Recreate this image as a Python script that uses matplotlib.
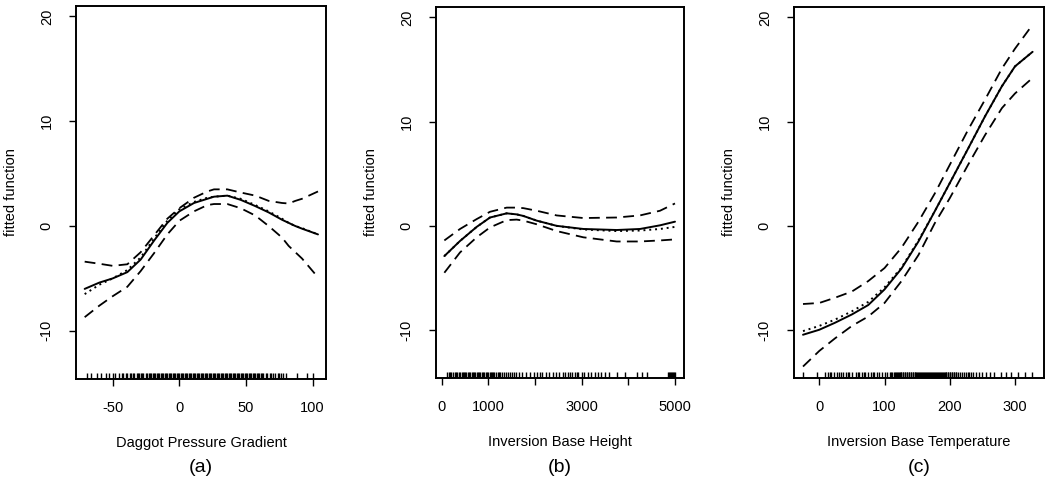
"""
Fitted additive-model functions for three ozone predictors, with
pointwise bands (dashed), an alternative fit (dotted) and a rug of the data.
"""

import matplotlib
matplotlib.use("Agg")
import matplotlib.pyplot as plt

plt.rcParams['font.family'] = ['Liberation Sans', 'DejaVu Sans']

# Panel (a): Daggot pressure gradient
dpg_x = [-71, -60, -50, -39, -29, -19, -9, 0, 11, 21, 26, 36, 46, 57, 67, 77, 82, 87, 92, 104]
dpg_fit = [-6.0, -5.4, -5.0, -4.4, -3.2, -1.4, 0.3, 1.4, 2.2, 2.6, 2.8, 2.9, 2.5, 1.9, 1.3, 0.6, 0.3, 0.0, -0.25, -0.8]
dpg_alt = [-6.5, -5.6, -5.0, -4.2, -3.0, -1.2, 0.5, 1.6, 2.3, 2.7, 2.8, 2.9, 2.6, 2.0, 1.4, 0.7, 0.3, 0.0, -0.2, -0.8]
dpg_up = [-3.4, -3.6, -3.8, -3.65, -2.5, -0.9, 0.7, 1.7, 2.7, 3.3, 3.5, 3.5, 3.2, 2.9, 2.4, 2.2, 2.15, 2.4, 2.6, 3.3]
dpg_lo = [-8.7, -7.6, -6.7, -5.8, -4.3, -2.6, -0.8, 0.5, 1.4, 2.0, 2.1, 2.1, 1.7, 1.0, 0.0, -1.1, -1.9, -2.5, -3.1, -4.9]
dpg_rug = [-69, -66, -62, -59, -55, -53, -50, -48, -45, -43, -42, -40, -39, -37, -36, -35, -34, -32,
           -31, -30, -29, -28, -27, -25, -24, -23, -22, -21, -20, -19, -18, -17, -16, -15, -14, -13,
           -12, -11, -10, -9, -8, -7, -6, -5, -4, -3, -2, -1, 0, 1, 2, 3, 4, 5, 6, 7, 8, 9, 10, 11,
           12, 13, 14, 15, 16, 17, 18, 19, 20, 21, 22, 23, 24, 25, 26, 27, 28, 29, 30, 31, 32, 33, 34,
           35, 36, 37, 38, 39, 40, 41, 42, 43, 44, 45, 46, 47, 48, 49, 50, 51, 52, 53, 54, 55, 56, 57,
           58, 59, 60, 61, 62, 63, 65, 66, 68, 69, 70, 72, 74, 75, 76, 78, 80, 88, 96, 100]

# Panel (b): inversion base height
ibh_x = [57, 393, 750, 1036, 1393, 1607, 1750, 2036, 2464, 3036, 3750, 4250, 4679, 5000]
ibh_fit = [-2.9, -1.45, -0.1, 0.8, 1.2, 1.1, 0.95, 0.5, 0.0, -0.3, -0.4, -0.3, 0.05, 0.4]
ibh_alt = [-2.9, -1.45, -0.1, 0.8, 1.2, 1.1, 0.95, 0.5, 0.0, -0.35, -0.5, -0.45, -0.3, -0.1]
ibh_up = [-1.4, -0.3, 0.65, 1.35, 1.75, 1.75, 1.7, 1.45, 1.0, 0.75, 0.8, 1.0, 1.45, 2.15]
ibh_lo = [-4.5, -2.55, -1.1, -0.15, 0.55, 0.6, 0.5, 0.15, -0.5, -1.1, -1.5, -1.5, -1.4, -1.3]
ibh_rug = [111, 150, 180, 210, 240, 280, 310, 330, 370, 400, 430, 450, 470, 500, 530, 560, 590, 610,
           640, 670, 700, 720, 750, 780, 800, 830, 860, 890, 910, 940, 970, 1000, 1030, 1060, 1080,
           1100, 1130, 1160, 1200, 1230, 1260, 1300, 1340, 1380, 1420, 1460, 1500, 1550, 1600, 1650,
           1720, 1800, 1900, 1970, 2040, 2100, 2150, 2230, 2300, 2380, 2450, 2520, 2600, 2650, 2700,
           2740, 2800, 2860, 2900, 2930, 3000, 3060, 3130, 3200, 3280, 3350, 3420, 3500, 3580, 3750,
           3930, 4180, 4290, 4400, 4860, 4880, 4900, 4920, 4940, 4960, 4980, 5000]

# Panel (c): inversion base temperature
ibt_x = [-25, 0, 24, 50, 75, 100, 126, 152, 177, 200, 228, 254, 280, 300, 327]
ibt_fit = [-10.45, -9.97, -9.3, -8.5, -7.6, -6.1, -4.1, -1.5, 1.4, 4.1, 7.4, 10.5, 13.4, 15.3, 16.7]
ibt_alt = [-10.1, -9.6, -9.0, -8.2, -7.3, -5.9, -4.0, -1.4, 1.4, 4.1, 7.4, 10.5, 13.4, 15.3, 16.7]
ibt_up = [-7.5, -7.4, -6.9, -6.3, -5.3, -4.05, -2.1, 0.4, 3.1, 5.85, 9.2, 12.1, 15.1, 17.0, 19.3]
ibt_lo = [-13.5, -12.0, -10.8, -9.6, -8.7, -7.4, -5.3, -2.8, 0.25, 2.65, 5.85, 8.7, 11.3, 12.7, 14.2]
ibt_rug = [-25, -3, 8, 13, 16, 18, 22, 27, 30, 33, 37, 41, 44, 46, 50, 56, 59, 61, 66, 68, 70, 75, 79,
           82, 84, 88, 92, 96, 100, 104, 108, 110, 112, 114, 116, 117, 119, 120, 122, 123, 125, 126,
           128, 129, 131, 132, 134, 135, 137, 138, 140, 141, 143, 144, 146, 147, 149, 150, 152, 153,
           155, 156, 158, 159, 161, 162, 164, 165, 167, 168, 170, 171, 173, 174, 176, 177, 179, 180,
           182, 183, 185, 186, 188, 189, 191, 192, 194, 195, 197, 198, 200, 201, 203, 204, 206, 207,
           209, 210, 213, 216, 219, 222, 225, 228, 230, 232, 236, 240, 245, 250, 256, 262, 268, 279,
           286, 294, 305, 315, 326]

x_titles = ["Daggot Pressure Gradient", "Inversion Base Height", "Inversion Base Temperature"]
panel_tags = ["(a)", "(b)", "(c)"]

W, H = 1045, 480


def panel(fig, box, xlim, xticks, xticklabels, x, fit, alt, up, lo, rug, title, tag):
    """
    Draws one fitted-function panel

    :param box: (tuple) left, right, top, bottom of the axes in pixels
    """
    left, right, top, bottom = box
    ax = fig.add_axes([left / W, 1 - bottom / H, (right - left) / W, (bottom - top) / H])

    ax.plot(x, fit, color="black", lw=1.4, solid_capstyle="round")
    ax.plot(x, alt, color="black", lw=1.4, ls=(0, (1, 2)))
    ax.plot(x, up, color="black", lw=1.3, ls=(0, (6, 3.5)))
    ax.plot(x, lo, color="black", lw=1.3, ls=(0, (6, 3.5)))

    # rug of observations along the bottom of the panel
    ax.vlines(rug, 0, 0.017, transform=ax.get_xaxis_transform(), color="black", lw=1.0)

    ax.set_xlim(*xlim)
    ax.set_ylim(-14.6, 21.0)
    ax.set_xticks(xticks)
    ax.set_xticklabels(xticklabels)
    ax.set_yticks([-10, 0, 10, 20])
    ax.set_yticklabels(["-10", "0", "10", "20"], rotation=90, va="center")

    ax.tick_params(direction="out", length=5, width=1, labelsize=10.5, pad=11, colors="black")
    for s in ax.spines.values():
        s.set_linewidth(1.4)

    ax.set_xlabel(title, fontsize=10.5, labelpad=15)
    ax.set_ylabel("fitted function", fontsize=10.5, labelpad=16)

    fig.text((left + right) / 2 / W, 1 - 467 / H, tag, ha="center", va="center", fontsize=14)
    return ax


def main():
    fig = plt.figure(figsize=(W / 100, H / 100), dpi=100)

    panel(fig, (76, 326, 6, 379), (-77.5, 110), [-50, 0, 50, 100], ["-50", "0", "50", "100"],
          dpg_x, dpg_fit, dpg_alt, dpg_up, dpg_lo, dpg_rug, x_titles[0], panel_tags[0])
    panel(fig, (436, 684, 7, 378), (-122, 5193), [0, 1000, 2000, 3000, 4000, 5000],
          ["0", "1000", "", "3000", "", "5000"],
          ibh_x, ibh_fit, ibh_alt, ibh_up, ibh_lo, ibh_rug, x_titles[1], panel_tags[1])
    panel(fig, (794, 1044, 7, 378), (-38.8, 344.5), [0, 100, 200, 300], ["0", "100", "200", "300"],
          ibt_x, ibt_fit, ibt_alt, ibt_up, ibt_lo, ibt_rug, x_titles[2], panel_tags[2])

    fig.savefig("out.png", dpi=100)


if __name__ == '__main__':
    main()
